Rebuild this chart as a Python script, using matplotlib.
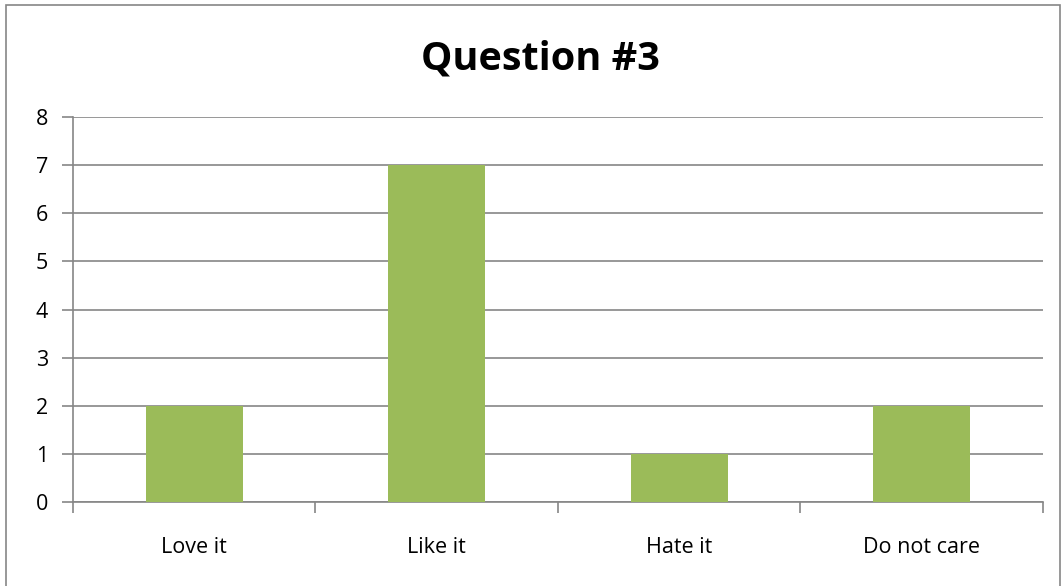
import matplotlib.pyplot as plt
from matplotlib.patches import Rectangle

categories = ['Love it', 'Like it', 'Hate it', 'Do not care']
counts = [2, 7, 1, 2]

plt.rcParams['font.family'] = ['Open Sans', 'DejaVu Sans']

fig = plt.figure(figsize=(10.63, 5.86), dpi=100)
ax = fig.add_axes([0.0687, 0.1433, 0.9123, 0.657])

# outer chart frame
fig.patches.append(Rectangle((6 / 1063, -0.01), 1054 / 1063, 1.0014,
                             transform=fig.transFigure, fill=False,
                             edgecolor='#868686', linewidth=1.2))

x = range(len(categories))
ax.bar(x, counts, width=0.4, color='#9BBB59', zorder=3)

ax.set_xlim(-0.5, len(categories) - 0.5)
ax.set_ylim(0, 8)
ax.set_yticks(range(0, 9))
ax.set_xticks([i + 0.5 for i in range(-1, len(categories))])
ax.set_xticklabels([])
ax.set_xticks(list(x), minor=True)
ax.set_xticklabels(categories, minor=True)
ax.tick_params(axis='x', which='minor', length=0, pad=25, labelsize=15.5)
ax.tick_params(axis='x', which='major', length=8, color='#868686', width=1.2)
ax.tick_params(axis='y', length=8, color='#868686', width=1.2, labelsize=15.5, pad=10)

ax.grid(axis='y', color='#868686', linewidth=1.2, zorder=0)
for s in ['top', 'right']:
    ax.spines[s].set_visible(False)
for s in ['left', 'bottom']:
    ax.spines[s].set_color('#868686')
    ax.spines[s].set_linewidth(1.2)

fig.text(0.508, 0.899, 'Question #3', ha='center', va='center',
         fontsize=28.5, fontweight='bold')

fig.savefig('out.png', dpi=100)
